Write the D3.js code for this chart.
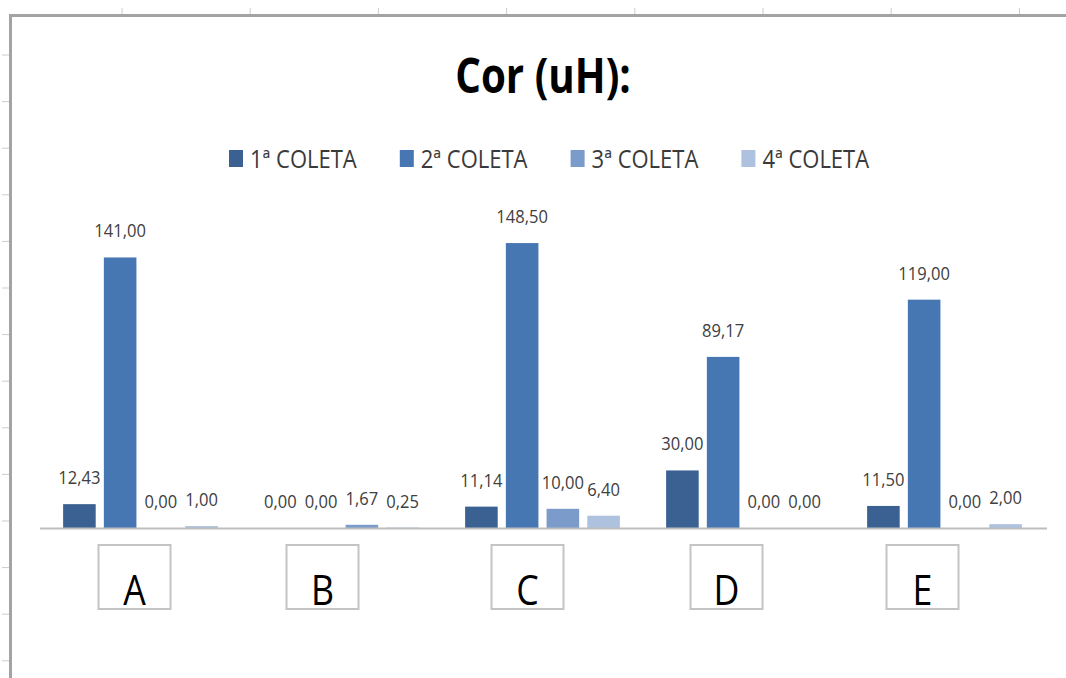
<!DOCTYPE html>
<html>
<head>
<meta charset="utf-8">
<script src="https://cdn.jsdelivr.net/npm/d3@7"></script>
<style>
  html, body { margin: 0; padding: 0; background: #ffffff; }
  svg { display: block; }
  text { font-family: "Open Sans", "Noto Sans", sans-serif; }
</style>
</head>
<body>
<svg id="chart" width="1066" height="678"></svg>
<script>
// Cor (uH) por ponto de coleta
const categories = ["A", "B", "C", "D", "E"];
const seriesNames = ["1ª COLETA", "2ª COLETA", "3ª COLETA", "4ª COLETA"];
const coleta1 = [12.43, 0.00, 11.14, 30.00, 11.50];
const coleta2 = [141.00, 0.00, 148.50, 89.17, 119.00];
const coleta3 = [0.00, 1.67, 10.00, 0.00, 0.00];
const coleta4 = [1.00, 0.25, 6.40, 0.00, 2.00];
const seriesValues = [coleta1, coleta2, coleta3, coleta4];
const seriesColors = ["#3b6192", "#4677b2", "#7b9bca", "#aec1de"];

// small horizontal nudges of the category text boxes (layout only)
const labelShift = [-6, -19, -15, -17, -22];

const W = 1066, H = 678;
const svg = d3.select("#chart");

// sheet frame with ruler ticks
const frame = svg.append("g");
frame.append("rect").attr("width", W).attr("height", H).attr("fill", "#ffffff");
d3.range(122, W, 128.2).forEach(x => {
  frame.append("line").attr("x1", x).attr("x2", x).attr("y1", 8).attr("y2", 15)
    .attr("stroke", "#cccccc").attr("stroke-width", 1);
});
d3.range(55, H, 46.6).forEach(y => {
  frame.append("line").attr("x1", 2).attr("x2", 10).attr("y1", y).attr("y2", y)
    .attr("stroke", "#cccccc").attr("stroke-width", 1);
});
frame.append("path").attr("d", `M10.5,${H} L10.5,15.5 L${W},15.5`)
  .attr("fill", "none").attr("stroke", "#a3a3a3").attr("stroke-width", 3);

// scales
const x0 = d3.scaleBand().domain(categories).range([40, 1045])
  .paddingInner(0.23).paddingOuter(0.115);
const x1 = d3.scaleBand().domain(d3.range(seriesNames.length))
  .range([0, x0.bandwidth()]).paddingInner(0.2).paddingOuter(0);
const y = d3.scaleLinear().domain([0, 160]).range([528, 221]);

// title
svg.append("text")
  .attr("transform", "translate(543,93) scale(0.84,1)")
  .attr("text-anchor", "middle")
  .attr("font-size", 48).attr("font-weight", 700).attr("fill", "#000")
  .text("Cor (uH):");

// legend
const legend = svg.append("g");
seriesNames.forEach((name, i) => {
  const lx = 229 + i * 170.8;
  legend.append("rect").attr("x", lx).attr("y", 150).attr("width", 14).attr("height", 17)
    .attr("fill", seriesColors[i]);
  legend.append("text").attr("transform", `translate(${lx + 21},168) scale(0.88,1)`)
    .attr("font-size", 25).attr("fill", "#3a3a3a").text(name);
});

// bars
const groups = svg.append("g").selectAll("g")
  .data(categories)
  .join("g")
  .attr("transform", d => `translate(${x0(d)},0)`);

groups.selectAll("rect")
  .data((d, ci) => seriesValues.map((vals, si) => ({ si, v: vals[ci] })))
  .join("rect")
  .attr("x", d => x1(d.si))
  .attr("width", x1.bandwidth())
  .attr("y", d => y(d.v))
  .attr("height", d => y(0) - y(d.v))
  .attr("fill", d => seriesColors[d.si]);

// value labels
const fmt = v => v.toFixed(2).replace(".", ",");
groups.selectAll("text")
  .data((d, ci) => seriesValues.map((vals, si) => ({ si, v: vals[ci] })))
  .join("text")
  .attr("transform", d => `translate(${x1(d.si) + x1.bandwidth() / 2},${y(d.v) - 20}) scale(0.92,1)`)
  .attr("text-anchor", "middle")
  .attr("font-size", 18).attr("fill", "#404040")
  .text(d => fmt(d.v));

// category axis line
svg.append("line").attr("x1", 40).attr("x2", 1047).attr("y1", y(0) + 0.5).attr("y2", y(0) + 0.5)
  .attr("stroke", "#bdbdbd").attr("stroke-width", 2);

// category text boxes
const boxes = svg.append("g").selectAll("g")
  .data(categories)
  .join("g")
  .attr("transform", (d, i) => `translate(${x0(d) + x0.bandwidth() / 2 + labelShift[i]},545)`);
boxes.append("rect").attr("x", -36).attr("y", 0).attr("width", 72).attr("height", 64)
  .attr("fill", "#ffffff").attr("stroke", "#c4c4c4").attr("stroke-width", 2);
boxes.append("text").attr("transform", "translate(0,60) scale(0.85,1)")
  .attr("text-anchor", "middle").attr("font-size", 42).attr("fill", "#000")
  .text(d => d);
</script>
</body>
</html>
